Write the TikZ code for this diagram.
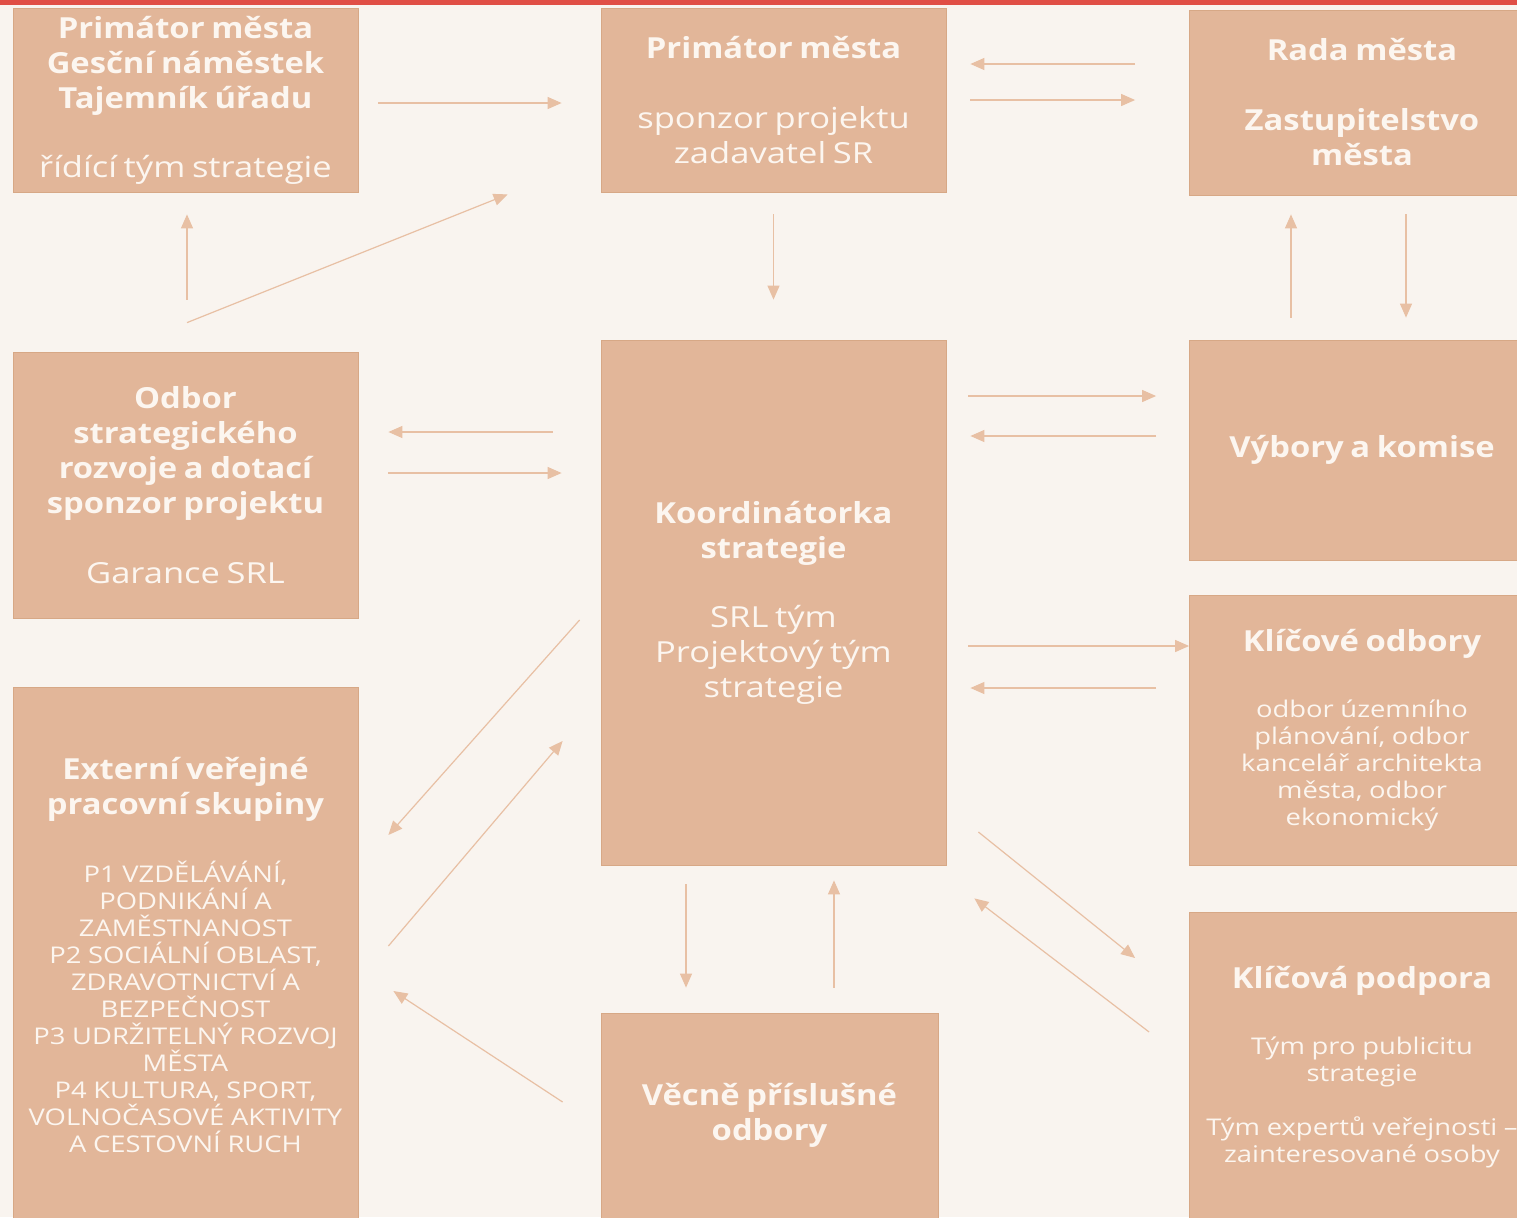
\documentclass[tikz,border=0pt]{standalone}
\usepackage{fontspec}
\setmainfont{Open Sans}[UprightFeatures={FakeStretch=1.19}, BoldFeatures={FakeStretch=1.13}]
\usetikzlibrary{calc,arrows.meta}
\definecolor{pagebg}{HTML}{F9F4EF}
\definecolor{topred}{HTML}{E04E45}
\definecolor{boxfill}{HTML}{E2B699}
\definecolor{boxline}{HTML}{D7A886}
\definecolor{boxtext}{HTML}{FCF6F0}
\definecolor{arrowc}{HTML}{E8C0A4}
\newcommand\hdfont{\fontsize{14.5}{17.5}\selectfont\bfseries}
\newcommand\txfont{\fontsize{14.5}{17.5}\selectfont}
\newcommand\smfont{\fontsize{11.5}{13.5}\selectfont}

\begin{document}
\begin{tikzpicture}[x=0.5pt, y=-0.5pt,
        box/.style={rectangle, draw=boxline, line width=0.4pt, fill=boxfill, text=boxtext, inner sep=0pt, minimum width=172.5pt, text width=170pt, align=center},
        arrow/.style={-{Triangle[length=7pt,width=6pt]}, line width=0.6pt, draw=arrowc}
      ]
        \useasboundingbox (0,0) rectangle (1517,1217);
        \clip (0,0) rectangle (1517,1217);
        \fill[pagebg] (0,0) rectangle (1517,1217);
        \fill[topred] (0,0) rectangle (1517,5);

        % left column
        \node[box, minimum height=92pt] at (185.5,100) (ridici) {{\hdfont Primátor města\\Gesční náměstek\\Tajemník úřadu\par}\vspace{17pt}{\txfont řídící tým strategie\par}};
        \node[box, minimum height=133pt] at (185.5,485) (odbor) {{\hdfont Odbor\\strategického\\rozvoje a dotací\\sponzor projektu\par}\vspace{17.5pt}{\txfont Garance SRL\par}};
        \node[box, minimum height=268pt] at (185.5,955) (externi) {{\hdfont Externí veřejné\\pracovní skupiny\par}\vspace{19pt}{\smfont P1 VZDĚLÁVÁNÍ,\\PODNIKÁNÍ A\\ZAMĚSTNANOST\\P2 SOCIÁLNÍ OBLAST,\\ZDRAVOTNICTVÍ A\\BEZPEČNOST\\P3 UDRŽITELNÝ ROZVOJ\\MĚSTA\\P4 KULTURA, SPORT,\\VOLNOČASOVÉ AKTIVITY\\A CESTOVNÍ RUCH\par}};

        % middle column
        \node[box, minimum height=92pt] at (773.5,100) (primator) {{\hdfont Primátor města\par}\vspace{17.5pt}{\txfont sponzor projektu\\zadavatel SR\par}};
        \node[box, minimum height=262.5pt] at (773.5,602.5) (koord) {{\hdfont Koordinátorka\\strategie\par}\vspace{17pt}{\txfont SRL tým\\Projektový tým\\strategie\par}};
        \node[box, minimum height=102.5pt, minimum width=168.5pt, text width=166pt] at (769.5,1115.5) (vecne) {{\hdfont Věcně příslušné\\odbory\par}};

        % right column
        \node[box, minimum height=92.5pt] at (1362,102.5) (rada) {{\hdfont Rada města\par}\vspace{17.5pt}{\hdfont Zastupitelstvo\\města\par}};
        \node[box, minimum height=110pt] at (1362,450) (vybory) {{\hdfont Výbory a komise\par}};
        \node[box, minimum height=135pt] at (1362,730) (klicove) {{\hdfont Klíčové odbory\par}\vspace{19.5pt}{\smfont odbor územního\\plánování, odbor\\kancelář architekta\\města, odbor\\ekonomický\par}};
        \node[box, minimum height=155pt] at (1362,1067) (podpora) {{\hdfont Klíčová podpora\par}\vspace{19.5pt}{\smfont Tým pro publicitu\\strategie\par}\vspace{13.5pt}{\smfont Tým expertů veřejnosti –\\zainteresované osoby\par}};

        % connectors
        \draw[arrow] ($(ridici.east)+(20,3)$) -- ($(primator.west)+(-39,3)$);
        \draw[arrow] ($(rada.west)+(-54,-38.5)$) -- ($(primator.east)+(24,-36)$);
        \draw[arrow] ($(primator.east)+(24,0)$) -- ($(rada.west)+(-54,-2.5)$);
        \draw[arrow] ($(primator.south)+(0,22)$) -- ($(koord.north)+(0,-40)$);
        \draw[arrow] ($(odbor.north)+(1.5,-52)$) -- ($(ridici.south)+(1.5,22)$);
        \draw[arrow] ($(odbor.north)+(1.5,-29)$) -- ($(primator.south west)+(-93,2)$);
        \draw[arrow] ($(vybory.north)+(-71,-22)$) -- ($(rada.south)+(-71,19)$);
        \draw[arrow] ($(rada.south)+(44,19)$) -- ($(vybory.north)+(44,-22)$);
        \draw[arrow] ($(koord.west)+(-48,-170.5)$) -- ($(odbor.east)+(30,-53)$);
        \draw[arrow] ($(odbor.east)+(30,-12)$) -- ($(koord.west)+(-39,-129.5)$);
        \draw[arrow] ($(koord.east)+(22,-206.5)$) -- ($(vybory.west)+(-33,-54)$);
        \draw[arrow] ($(vybory.west)+(-33,-14)$) -- ($(koord.east)+(24,-166.5)$);
        \draw[arrow] ($(koord.east)+(22,43.5)$) -- ($(klicove.west)+(0,-84)$);
        \draw[arrow] ($(klicove.west)+(-33,-42)$) -- ($(koord.east)+(24,85.5)$);
        \draw[arrow] ($(koord.west)+(-21,17.5)$) -- ($(externi.east)+(30,-120)$);
        \draw[arrow] ($(externi.east)+(30,-9)$) -- ($(koord.west)+(-38,138.5)$);
        \draw[arrow] ($(vecne.west)+(-38,-13.5)$) -- ($(externi.east)+(35,36)$);
        \draw[arrow] ($(koord.south)+(-87.5,19)$) -- ($(vecne.north)+(-83.5,-25)$);
        \draw[arrow] ($(vecne.north)+(64.5,-25)$) -- ($(koord.south)+(60.5,15)$);
        \draw[arrow] ($(koord.east)+(32,229.5)$) -- ($(podpora.west)+(-54,-109)$);
        \draw[arrow] ($(podpora.west)+(-40,-35)$) -- ($(koord.south east)+(28,33)$);
      \end{tikzpicture}
\end{document}
